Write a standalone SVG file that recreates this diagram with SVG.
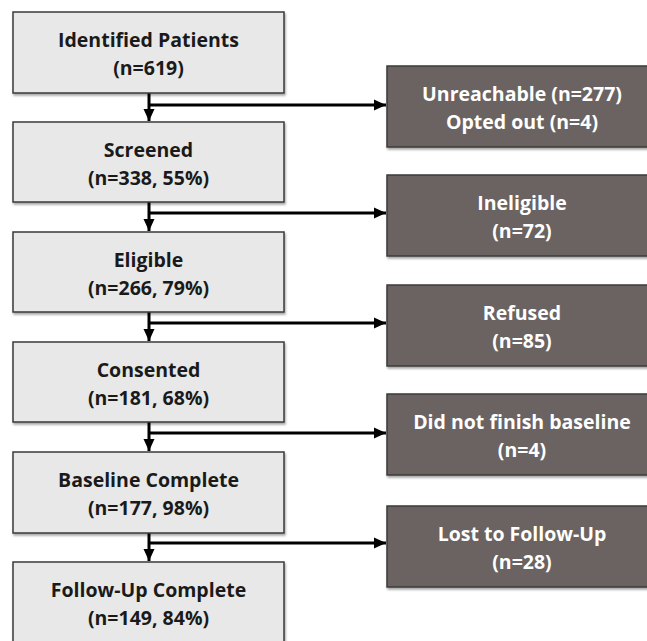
<svg xmlns="http://www.w3.org/2000/svg" width="647" height="641" viewBox="0 0 647 641">
<defs>
<style>
.lb{fill:#e8e8e8;stroke:#3a3a3a;stroke-width:1.5}
.rb{fill:#6b6462;stroke:#3a3a3a;stroke-width:1.5}
.lt{font-family:"Open Sans","Liberation Sans",sans-serif;font-weight:bold;font-size:19.5px;fill:#1a1a1a;text-anchor:middle}
.rt{font-family:"Open Sans","Liberation Sans",sans-serif;font-weight:bold;font-size:19.5px;fill:#ffffff;text-anchor:middle}
.c{stroke:#000;stroke-width:3;fill:none}
</style>
<marker id="ah" markerWidth="12" markerHeight="12" viewBox="0 0 12 12" refX="12" refY="6" orient="auto" markerUnits="userSpaceOnUse">
<path d="M0,0.5 L12,6 L0,11.5 z" fill="#000"/>
</marker>
<filter id="sh" x="-5%" y="-5%" width="115%" height="120%"><feDropShadow dx="1" dy="2" stdDeviation="1.2" flood-color="#000" flood-opacity="0.35"/></filter>
</defs>
<g id="connectors">
<path class="c" d="M149,93 V121" marker-end="url(#ah)"/>
<path class="c" d="M149,105 H386" marker-end="url(#ah)"/>
<path class="c" d="M149,202 V231" marker-end="url(#ah)"/>
<path class="c" d="M149,213 H386" marker-end="url(#ah)"/>
<path class="c" d="M149,312 V341" marker-end="url(#ah)"/>
<path class="c" d="M149,323 H386" marker-end="url(#ah)"/>
<path class="c" d="M149,422 V451" marker-end="url(#ah)"/>
<path class="c" d="M149,433 H386" marker-end="url(#ah)"/>
<path class="c" d="M149,533 V561" marker-end="url(#ah)"/>
<path class="c" d="M149,543 H386" marker-end="url(#ah)"/>
</g>
<g id="identified"><rect class="lb" filter="url(#sh)" x="13" y="12" width="271" height="81"/>
<text class="lt" x="148.5" y="47">Identified Patients</text><text class="lt" x="148.5" y="75">(n=619)</text></g>
<g id="screened"><rect class="lb" filter="url(#sh)" x="13" y="122" width="271" height="80"/>
<text class="lt" x="148.5" y="157">Screened</text><text class="lt" x="148.5" y="185">(n=338, 55%)</text></g>
<g id="eligible"><rect class="lb" filter="url(#sh)" x="13" y="232" width="271" height="80"/>
<text class="lt" x="148.5" y="267">Eligible</text><text class="lt" x="148.5" y="295">(n=266, 79%)</text></g>
<g id="consented"><rect class="lb" filter="url(#sh)" x="13" y="342" width="271" height="80"/>
<text class="lt" x="148.5" y="377">Consented</text><text class="lt" x="148.5" y="405">(n=181, 68%)</text></g>
<g id="baseline"><rect class="lb" filter="url(#sh)" x="13" y="452" width="271" height="81"/>
<text class="lt" x="148.5" y="487">Baseline Complete</text><text class="lt" x="148.5" y="515">(n=177, 98%)</text></g>
<g id="followup"><rect class="lb" filter="url(#sh)" x="13" y="562" width="271" height="90"/>
<text class="lt" x="148.5" y="597">Follow-Up Complete</text><text class="lt" x="148.5" y="625">(n=149, 84%)</text></g>
<g id="unreachable"><rect class="rb" filter="url(#sh)" x="387" y="66" width="271" height="81"/>
<text class="rt" x="522" y="101">Unreachable (n=277)</text><text class="rt" x="522" y="129">Opted out (n=4)</text></g>
<g id="ineligible"><rect class="rb" filter="url(#sh)" x="387" y="175" width="271" height="81"/>
<text class="rt" x="522" y="210">Ineligible</text><text class="rt" x="522" y="238">(n=72)</text></g>
<g id="refused"><rect class="rb" filter="url(#sh)" x="387" y="285" width="271" height="81"/>
<text class="rt" x="522" y="320">Refused</text><text class="rt" x="522" y="348">(n=85)</text></g>
<g id="didnotfinish"><rect class="rb" filter="url(#sh)" x="387" y="394" width="271" height="81"/>
<text class="rt" x="522" y="429">Did not finish baseline</text><text class="rt" x="522" y="457">(n=4)</text></g>
<g id="lost"><rect class="rb" filter="url(#sh)" x="387" y="506" width="271" height="81"/>
<text class="rt" x="522" y="541">Lost to Follow-Up</text><text class="rt" x="522" y="569">(n=28)</text></g>
</svg>
